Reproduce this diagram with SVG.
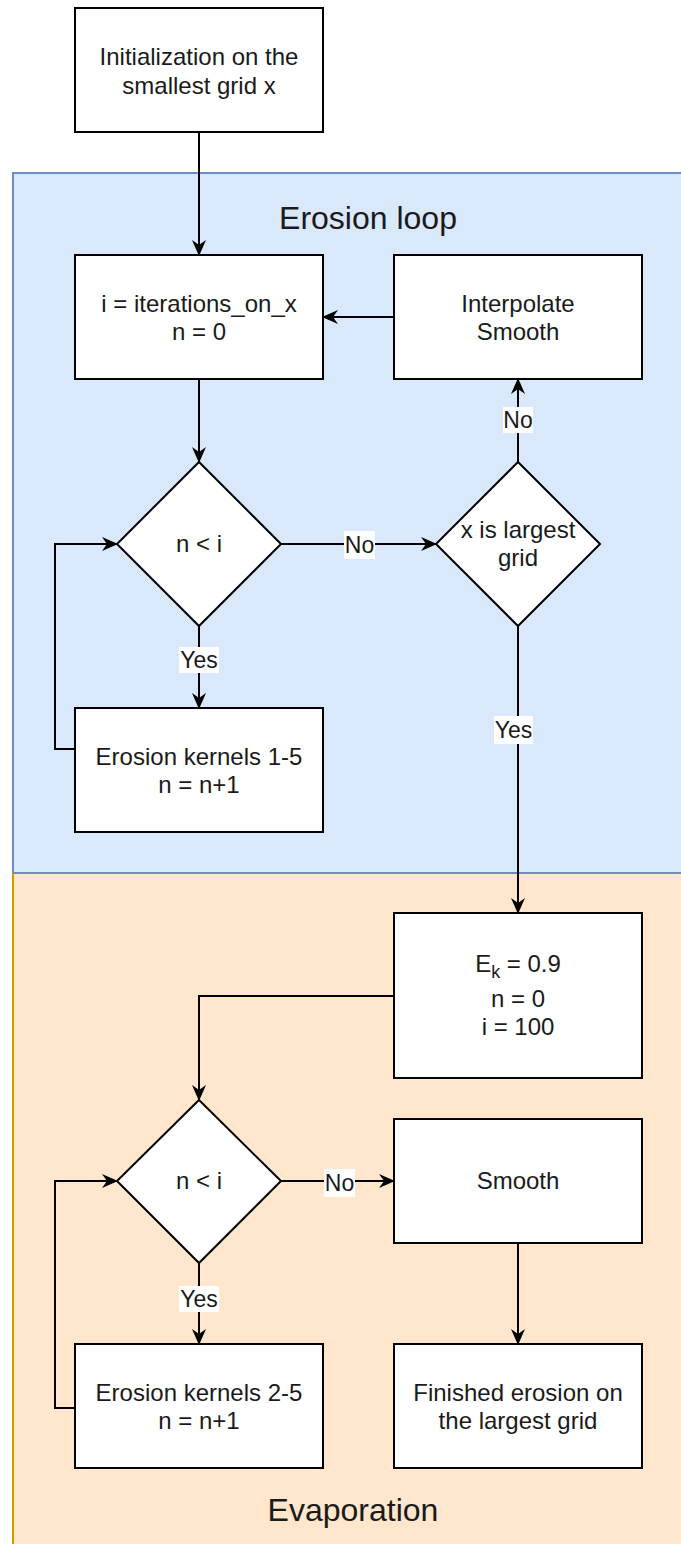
<svg xmlns="http://www.w3.org/2000/svg" width="681" height="1544" viewBox="0 0 681 1544">
  <style>
    .box { fill: #ffffff; stroke: #000000; stroke-width: 2; }
    .t { font-family: "Liberation Sans", Arial, sans-serif; font-size: 24px; fill: #1a1a1a; text-anchor: middle; }
    .title { font-family: "Liberation Sans", Arial, sans-serif; font-size: 32px; fill: #1a1a1a; text-anchor: middle; }
    .lbl { font-family: "Liberation Sans", Arial, sans-serif; font-size: 23px; fill: #1a1a1a; text-anchor: middle; }
    .lblbg { fill: #ffffff; }
    .edge { fill: none; stroke: #000000; stroke-width: 2; }
  </style>
  <defs>
    <marker id="arrow" viewBox="0 0 16 14" refX="15" refY="7" markerWidth="16" markerHeight="14" markerUnits="userSpaceOnUse" orient="auto">
      <path d="M0,0 L16,7 L0,14 L5,7 Z" fill="#000000"/>
    </marker>
  </defs>

  <rect width="681" height="1544" fill="#ffffff"/>

  <!-- containers -->
  <g id="erosion-loop">
    <rect x="13" y="173" width="700" height="700" fill="#dae8fc" stroke="#6c8ebf" stroke-width="2"/>
    <text class="title" x="368" y="229">Erosion loop</text>
  </g>
  <g id="evaporation">
    <rect x="13" y="873" width="700" height="700" fill="#ffe6cc" stroke="#d79b00" stroke-width="2"/>
    <line x1="13" y1="873" x2="713" y2="873" stroke="#6c8ebf" stroke-width="2"/>
    <text class="title" x="353" y="1521">Evaporation</text>
  </g>

  <!-- connectors -->
  <g id="connectors">
    <path class="edge" d="M199,132 L199,255" marker-end="url(#arrow)"/>
    <path class="edge" d="M199,379 L199,462" marker-end="url(#arrow)"/>
    <path class="edge" d="M281,544 L436,544" marker-end="url(#arrow)"/>
    <path class="edge" d="M518,462 L518,379" marker-end="url(#arrow)"/>
    <path class="edge" d="M394,317 L323,317" marker-end="url(#arrow)"/>
    <path class="edge" d="M199,626 L199,708" marker-end="url(#arrow)"/>
    <path class="edge" d="M75,749 L55,749 L55,544 L117,544" marker-end="url(#arrow)"/>
    <path class="edge" d="M518,626 L518,913" marker-end="url(#arrow)"/>
    <path class="edge" d="M394,996 L199,996 L199,1100" marker-end="url(#arrow)"/>
    <path class="edge" d="M281,1181 L394,1181" marker-end="url(#arrow)"/>
    <path class="edge" d="M199,1263 L199,1344" marker-end="url(#arrow)"/>
    <path class="edge" d="M75,1408 L55,1408 L55,1181 L117,1181" marker-end="url(#arrow)"/>
    <path class="edge" d="M518,1243 L518,1344" marker-end="url(#arrow)"/>

    <!-- edge labels -->
    <rect class="lblbg" x="344" y="531" width="31" height="28"/>
    <text class="lbl" x="359.5" y="553">No</text>
    <rect class="lblbg" x="503" y="407" width="30" height="26"/>
    <text class="lbl" x="518" y="428">No</text>
    <rect class="lblbg" x="179" y="647" width="40" height="26"/>
    <text class="lbl" x="199" y="668">Yes</text>
    <rect class="lblbg" x="494" y="716" width="39" height="28"/>
    <text class="lbl" x="513.5" y="738">Yes</text>
    <rect class="lblbg" x="324" y="1169" width="31" height="28"/>
    <text class="lbl" x="339.5" y="1191">No</text>
    <rect class="lblbg" x="179" y="1286" width="40" height="26"/>
    <text class="lbl" x="199" y="1307">Yes</text>
  </g>

  <!-- nodes -->
  <g id="init">
    <rect class="box" x="75" y="8" width="248" height="124"/>
    <text class="t" x="199" y="65">Initialization on the</text>
    <text class="t" x="199" y="94">smallest grid x</text>
  </g>
  <g id="setup-iterations">
    <rect class="box" x="75" y="255" width="248" height="124"/>
    <text class="t" x="199" y="312">i = iterations_on_x</text>
    <text class="t" x="199" y="340">n = 0</text>
  </g>
  <g id="interpolate">
    <rect class="box" x="394" y="255" width="248" height="124"/>
    <text class="t" x="518" y="312">Interpolate</text>
    <text class="t" x="518" y="340">Smooth</text>
  </g>
  <g id="check-n1">
    <polygon class="box" points="199,462 281,544 199,626 117,544"/>
    <text class="t" x="199" y="552">n &lt; i</text>
  </g>
  <g id="check-largest">
    <polygon class="box" points="518,462 600,544 518,626 436,544"/>
    <text class="t" x="518" y="538">x is largest</text>
    <text class="t" x="518" y="566">grid</text>
  </g>
  <g id="kernels-1-5">
    <rect class="box" x="75" y="708" width="248" height="124"/>
    <text class="t" x="199" y="765">Erosion kernels 1-5</text>
    <text class="t" x="199" y="793">n = n+1</text>
  </g>
  <g id="evap-setup">
    <rect class="box" x="394" y="913" width="248" height="165"/>
    <text class="t" x="518" y="972">E<tspan font-size="18" dy="6">k</tspan><tspan dy="-6"> = 0.9</tspan></text>
    <text class="t" x="518" y="1007">n = 0</text>
    <text class="t" x="518" y="1035">i = 100</text>
  </g>
  <g id="check-n2">
    <polygon class="box" points="199,1100 281,1181 199,1263 117,1181"/>
    <text class="t" x="199" y="1189">n &lt; i</text>
  </g>
  <g id="smooth">
    <rect class="box" x="394" y="1119" width="248" height="124"/>
    <text class="t" x="518" y="1189">Smooth</text>
  </g>
  <g id="kernels-2-5">
    <rect class="box" x="75" y="1344" width="248" height="124"/>
    <text class="t" x="199" y="1401">Erosion kernels 2-5</text>
    <text class="t" x="199" y="1429">n = n+1</text>
  </g>
  <g id="finished">
    <rect class="box" x="394" y="1344" width="248" height="124"/>
    <text class="t" x="518" y="1401">Finished erosion on</text>
    <text class="t" x="518" y="1429">the largest grid</text>
  </g>
</svg>
